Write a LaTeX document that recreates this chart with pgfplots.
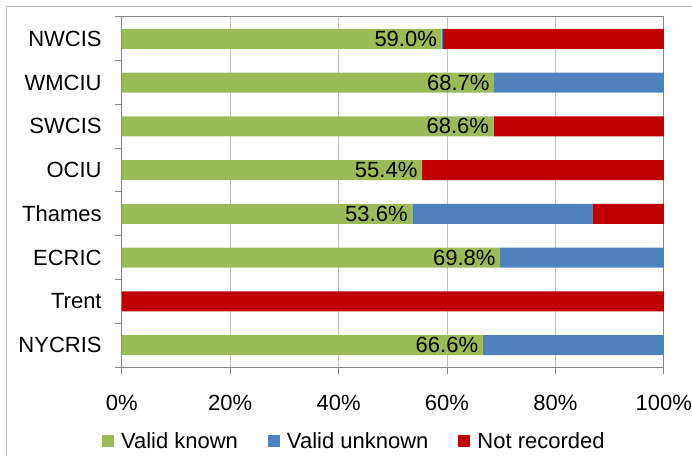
\documentclass[border=0pt]{standalone}
\usepackage{pgfplots}
\pgfplotsset{compat=1.18}
\usepackage{fontspec}
\setmainfont{Liberation Sans}
\definecolor{vknown}{RGB}{155,187,89}
\definecolor{vunknown}{RGB}{79,129,189}
\definecolor{notrec}{RGB}{192,0,0}
\definecolor{gridgray}{RGB}{192,192,192}
\definecolor{axisgray}{RGB}{134,134,134}
\newcommand{\chartfont}{\fontsize{22}{26}\selectfont}

\begin{document}
\begin{tikzpicture}[x=1pt,y=1pt]
\useasboundingbox (0,0) rectangle (692,455);
% outer chart frame (cut off at right and bottom)
\draw[gridgray, line width=1pt] (6.6,-5) -- (6.6,448.3) -- (700,448.3);
\begin{axis}[
    at={(121.8pt,88pt)}, anchor=south west,
    scale only axis, width=542pt, height=350pt,
    xbar stacked, bar width=20pt,
    xmin=0, xmax=100, ymin=-0.5, ymax=7.5,
    axis line style={axisgray, line width=1pt},
    tick align=outside, xtick pos=bottom, ytick pos=left,
    major tick length=7pt,
    tick style={axisgray, line width=1pt},
    xtick={0,20,...,100},
    xticklabels={0\%,20\%,40\%,60\%,80\%,100\%},
    xmajorgrids, major grid style={gridgray, line width=1pt},
    ytick={-0.5,0.5,...,7.5}, yticklabels={},
    extra y ticks={0,...,7},
    extra y tick labels={NYCRIS,Trent,ECRIC,Thames,OCIU,SWCIS,WMCIU,NWCIS},
    extra y tick style={major tick length=0pt, grid=none},
    tick label style={font=\chartfont, text=black},
    xticklabel style={inner sep=0pt, yshift=-21pt},
    yticklabel style={inner sep=0pt, xshift=-20pt},
    legend style={at={(0.429,-0.211)}, anchor=center, draw=none, fill=none,
        font=\chartfont, legend columns=3,
        /tikz/every odd column/.append style={column sep=5pt},
        /tikz/every even column/.append style={column sep=28pt}},
    legend image code/.code={\path[#1, draw=none] (0pt,-6pt) rectangle (12pt,6pt);},
]
% stacked labels sit at the segment middle; shift them to the bar end
\addplot[fill=vknown, draw=none, nodes near coords, point meta=explicit symbolic,
    visualization depends on={x \as \rawx},
    every node near coord/.append style={anchor=east, font=\chartfont, text=black,
        inner sep=4.5pt, xshift={\rawx*2.71pt}}]
    coordinates {(66.6,0) [66.6\%] (0,1) [] (69.8,2) [69.8\%] (53.6,3) [53.6\%]
                 (55.4,4) [55.4\%] (68.6,5) [68.6\%] (68.7,6) [68.7\%] (59.0,7) [59.0\%]};
\addplot[fill=vunknown, draw=none]
    coordinates {(33.4,0) (0,1) (30.2,2) (33.2,3) (0,4) (0,5) (31.3,6) (0.3,7)};
\addplot[fill=notrec, draw=none]
    coordinates {(0,0) (100,1) (0,2) (13.2,3) (44.6,4) (31.4,5) (0,6) (40.7,7)};
\legend{Valid known, Valid unknown, Not recorded}
\end{axis}
\end{tikzpicture}
\end{document}
